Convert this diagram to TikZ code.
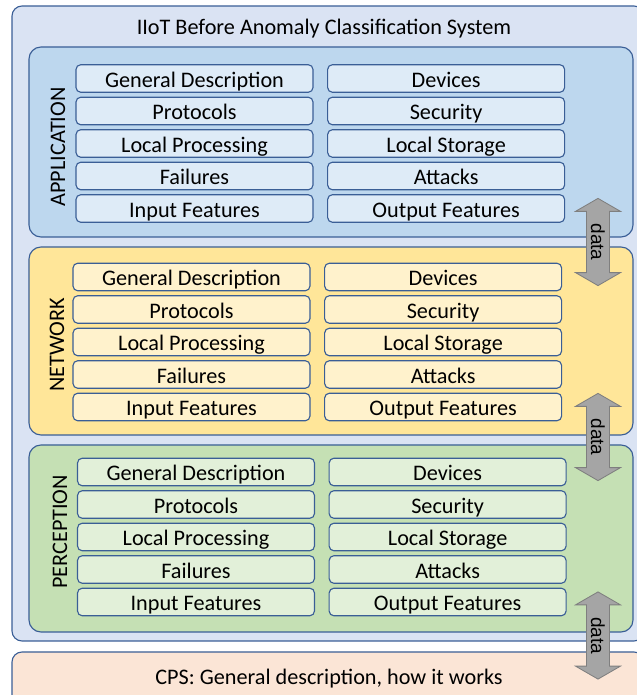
\documentclass[tikz,border=0pt]{standalone}
\usepackage{fontspec}
\setmainfont{Carlito}
\newfontfamily\arrowfont{Liberation Sans}
\usetikzlibrary{shapes.arrows, positioning}

\definecolor{frameblue}{HTML}{3A5E96}
\definecolor{outerfill}{HTML}{DAE3F3}
\definecolor{appfill}{HTML}{BDD7EE}
\definecolor{appcell}{HTML}{DEEBF7}
\definecolor{netfill}{HTML}{FFE699}
\definecolor{netcell}{HTML}{FFF2CC}
\definecolor{perfill}{HTML}{C5E0B4}
\definecolor{percell}{HTML}{E2F0D9}
\definecolor{cpsfill}{HTML}{FBE5D6}
\definecolor{arrowgray}{HTML}{A5A5A5}
\definecolor{arrowedge}{HTML}{7F7F7F}

\begin{document}
\begin{tikzpicture}[
        every node/.style={font=\fontsize{15.8}{18}\selectfont},
        frame/.style={draw=frameblue, line width=0.8pt},
        cell/.style={frame, rounded corners=0.12cm, minimum width=5.925cm,
            minimum height=0.69cm, inner sep=0pt, text height=14.2pt, text depth=1.7pt},
        dataflow/.style={double arrow, draw=arrowedge, fill=arrowgray,
            line width=0.6pt, rotate=-90, minimum height=2.18cm,
            double arrow head extend=0.275cm, double arrow tip angle=120,
            inner xsep=0pt, inner ysep=2.9pt,
            font=\arrowfont\fontsize{13.5}{15}\selectfont}
    ]

    \useasboundingbox (0,0) rectangle (15.9,17.375);

    % Outer system frame and the CPS strip below it
    \draw[frame, fill=outerfill, rounded corners=0.25cm] (0.3,1.35) rectangle (16.1,17.225);
    \draw[frame, fill=cpsfill, rounded corners=0.25cm] (0.3,-0.3) rectangle (16.1,1.075);
    \node (title) at (8.1,16.65) {IIoT Before Anomaly Classification System};
    \node (cps) at (8.225,0.42) {CPS: General description, how it works};

    % Draw the three layers with their cells
    \foreach \lname/\ltext/\ytop/\ybot/\lfill/\cfill/\lx/\ly/\cx/\rowy in {
            app/APPLICATION/16.2/11.45/appfill/appcell/1.45/13.7/4.8625/15.4125,
            net/NETWORK/11.2/6.5/netfill/netcell/1.425/8.75/4.7875/10.45,
            per/PERCEPTION/6.25/1.575/perfill/percell/1.5/4.075/4.9/5.575} {
        \draw[frame, fill=\lfill, rounded corners=0.3cm] (0.725,\ybot) rectangle (15.825,\ytop);
        \node[rotate=90] (\lname) at (\lx,\ly) {\ltext};
        \foreach \lt/\rt [count=\r] in {General Description/Devices,
                Protocols/Security, Local Processing/Local Storage,
                Failures/Attacks, Input Features/Output Features} {
            \pgfmathsetmacro\y{\rowy-(\r-1)*0.8125}
            \node[cell, fill=\cfill] (\lname-l\r) at (\cx,\y) {\lt};
            \node[cell, fill=\cfill, right=0.3375cm of \lname-l\r] (\lname-r\r) {\rt};
        }
    }

    % Data exchange between the layers
    \node[dataflow] (app-net) at (14.95,11.325) {data};
    \node[dataflow] (net-per) at (14.95,6.45) {data};
    \node[dataflow] (per-cps) at (14.95,1.4875) {data};

\end{tikzpicture}
\end{document}
